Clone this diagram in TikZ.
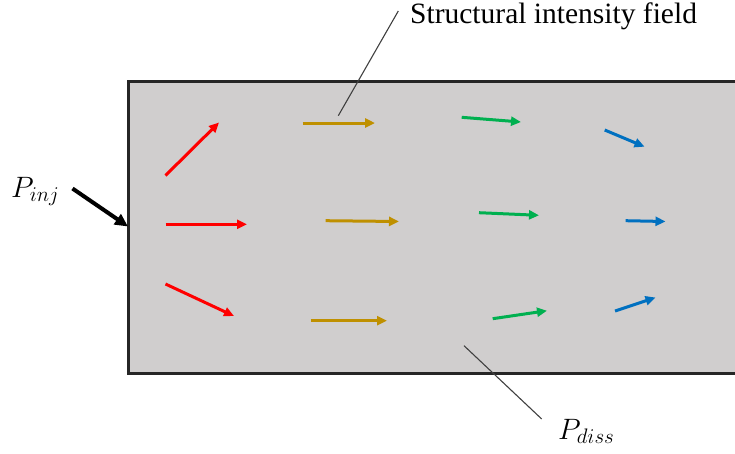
\RequirePackage{fix-cm}
\documentclass[tikz,border=0pt]{standalone}
\usepackage{fontspec}
\setmainfont{Liberation Serif}
\usetikzlibrary{arrows.meta}
\DeclareMathSizes{29.5}{29.5}{21}{16}
\definecolor{platefill}{HTML}{D0CECE}
\definecolor{plateline}{HTML}{262626}
\definecolor{cred}{HTML}{FF0000}
\definecolor{cgold}{HTML}{BF9000}
\definecolor{cgreen}{HTML}{00B050}
\definecolor{cblue}{HTML}{0070C0}
\definecolor{leader}{HTML}{404040}
\tikzset{
  fieldarrow/.style={line width=3pt, -{Triangle[length=10pt,width=9pt]}},
  injarrow/.style={line width=4pt, black, -{Triangle[length=13pt,width=12pt]}},
  leaderline/.style={line width=1.1pt, leader},
  lbl/.style={inner sep=0pt, anchor=base west, font=\fontsize{29.5}{34}\selectfont},
}
\begin{document}
\begin{tikzpicture}[x=1pt,y=-1pt]
\useasboundingbox (0,0) rectangle (735,453);
% plate
\fill[platefill] (128.5,81.5) rectangle (736,373.5);
\draw[plateline, line width=2.3pt] (737,81.5) -- (128.5,81.5) -- (128.5,373.5) -- (737,373.5);
% coordinates
\coordinate (r1a) at (165.5,175.5); \coordinate (r1b) at (219,122.5);
\coordinate (r2a) at (165.5,224.3); \coordinate (r2b) at (247,224.3);
\coordinate (r3a) at (165.5,284);   \coordinate (r3b) at (234,316);
\coordinate (g1a) at (302.7,123);   \coordinate (g1b) at (375,123);
\coordinate (g2a) at (325.7,220.7); \coordinate (g2b) at (399,221.5);
\coordinate (g3a) at (310.7,320.7); \coordinate (g3b) at (387,320.7);
\coordinate (e1a) at (461.7,117.3); \coordinate (e1b) at (521,122);
\coordinate (e2a) at (479,212.7);   \coordinate (e2b) at (539,215.3);
\coordinate (e3a) at (492.7,318.7); \coordinate (e3b) at (547,310.7);
\coordinate (b1a) at (604.7,130);   \coordinate (b1b) at (644.5,146.7);
\coordinate (b2a) at (625.7,220.7); \coordinate (b2b) at (665.5,221.5);
\coordinate (b3a) at (615,311);     \coordinate (b3b) at (655.5,297.5);
% field arrows
\draw[fieldarrow, cred] (r1a) -- (r1b);
\draw[fieldarrow, cred] (r2a) -- (r2b);
\draw[fieldarrow, cred] (r3a) -- (r3b);
\draw[fieldarrow, cgold] (g1a) -- (g1b);
\draw[fieldarrow, cgold] (g2a) -- (g2b);
\draw[fieldarrow, cgold] (g3a) -- (g3b);
\draw[fieldarrow, cgreen] (e1a) -- (e1b);
\draw[fieldarrow, cgreen] (e2a) -- (e2b);
\draw[fieldarrow, cgreen] (e3a) -- (e3b);
\draw[fieldarrow, cblue] (b1a) -- (b1b);
\draw[fieldarrow, cblue] (b2a) -- (b2b);
\draw[fieldarrow, cblue] (b3a) -- (b3b);
% labels
\node[lbl] (sif) at (410,23) {Structural intensity field};
\node[lbl] (pinj) at (11,197) {$P_{inj}$};
\node[lbl] (pdiss) at (558,439) {$P_{diss}$};
% injection arrow
\coordinate (inja) at (72.5,188.5);
\coordinate (injb) at (128,226.5);
\draw[injarrow] (inja) -- (injb);
% leader lines
\coordinate (sifa) at (398.3,11);  \coordinate (sifb) at (338.3,115.7);
\coordinate (pda) at (464,345.7);  \coordinate (pdb) at (541.7,419);
\draw[leaderline] (sifa) -- (sifb);
\draw[leaderline] (pda) -- (pdb);
\end{tikzpicture}
\end{document}
